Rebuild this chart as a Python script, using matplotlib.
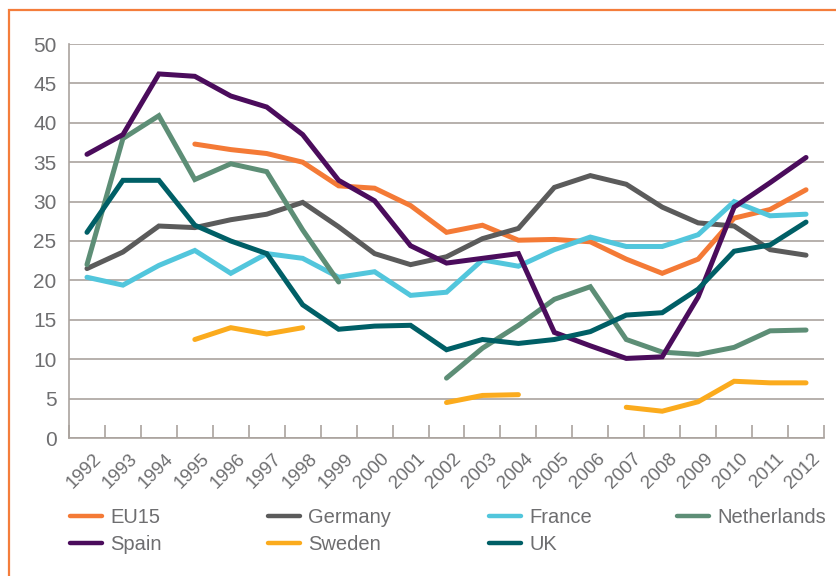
import numpy as np
import matplotlib
matplotlib.use("Agg")
import matplotlib.pyplot as plt
from matplotlib.patches import Rectangle
from matplotlib.lines import Line2D
import matplotlib.transforms as mtransforms

nan = np.nan
years = [str(y) for y in range(1992, 2013)]

eu15 = [nan, nan, nan, 37.3, 36.6, 36.1, 35.0, 32.0, 31.7, 29.5, 26.1, 27.0,
        25.1, 25.2, 24.9, 22.7, 20.9, 22.7, 27.9, 29.0, 31.5]
germany = [21.5, 23.6, 26.9, 26.7, 27.7, 28.4, 29.9, 26.8, 23.4, 22.0, 23.0,
           25.3, 26.6, 31.8, 33.3, 32.2, 29.3, 27.3, 26.9, 23.9, 23.2]
france = [20.4, 19.4, 21.9, 23.8, 20.9, 23.4, 22.8, 20.4, 21.1, 18.1, 18.5,
          22.6, 21.8, 23.9, 25.5, 24.3, 24.3, 25.8, 30.0, 28.2, 28.4]
netherlands = [22.0, 38.0, 40.9, 32.8, 34.8, 33.8, 26.4, 19.8, nan, nan, 7.6,
               11.4, 14.3, 17.6, 19.2, 12.5, 10.9, 10.6, 11.5, 13.6, 13.7]
spain = [36.0, 38.5, 46.2, 45.9, 43.4, 42.0, 38.5, 32.7, 30.1, 24.4, 22.2,
         22.8, 23.4, 13.4, 11.7, 10.1, 10.3, 17.9, 29.3, 32.4, 35.6]
sweden = [nan, nan, nan, 12.5, 14.0, 13.2, 14.0, nan, nan, nan, 4.5, 5.4,
          5.5, nan, nan, 3.9, 3.4, 4.6, 7.2, 7.0, 7.0]
uk = [26.1, 32.7, 32.7, 27.0, 25.0, 23.4, 16.9, 13.8, 14.2, 14.3, 11.2, 12.5,
      12.0, 12.5, 13.5, 15.6, 15.9, 18.9, 23.7, 24.5, 27.4]

series_names = ["EU15", "Germany", "France", "Netherlands", "Spain", "Sweden", "UK"]
series_vals = [eu15, germany, france, netherlands, spain, sweden, uk]
colors = ["#f47a36", "#5b5b5b", "#52c6dc", "#5d8e76", "#4b0c5c", "#fbab1d", "#005f66"]

grid_col = "#aaa39e"
text_col = "#6e6e70"
plt.rcParams['font.family'] = ['Liberation Sans', 'DejaVu Sans']

fig = plt.figure(figsize=(8.36, 5.76), dpi=100)
ax = fig.add_axes([69/836, 1 - 438/576, (824 - 69)/836, (438 - 44)/576])

x = np.arange(len(years))
lines = []
for name, vals, c in zip(series_names, series_vals, colors):
    ln, = ax.plot(x, vals, color=c, lw=3.6, solid_capstyle='round',
                  solid_joinstyle='miter', label=name, zorder=3)
    lines.append(ln)

ax.set_xlim(-0.5, len(years) - 0.5)
ax.set_ylim(0, 50)
ax.set_yticks(np.arange(0, 51, 5))
ax.yaxis.grid(True, color=grid_col, lw=1.2, zorder=0)
ax.set_axisbelow(True)
for s in ["top", "right"]:
    ax.spines[s].set_visible(False)
for s in ["left", "bottom"]:
    ax.spines[s].set_color(grid_col)
    ax.spines[s].set_linewidth(1.2)

ax.tick_params(axis='y', length=0, pad=9, labelsize=15, labelcolor=text_col)
ax.set_xticks(x)
ax.set_xticklabels(years, rotation=45, ha='center', va='top')
ax.tick_params(axis='x', which='major', length=0, pad=9, labelsize=13.5,
               labelcolor=text_col)
ax.set_xticks(np.arange(-0.5, len(years), 1.0), minor=True)
ax.tick_params(axis='x', which='minor', direction='in', length=9.5,
               width=1.2, color=grid_col)
offset = mtransforms.ScaledTranslation(-3/100, 0, fig.dpi_scale_trans)
for lab in ax.get_xticklabels():
    lab.set_transform(lab.get_transform() + offset)

# legends: one per column
col_x = [70, 268, 489, 677]
columns = [[0, 4], [1, 5], [2, 6], [3]]
for cx, idxs in zip(col_x, columns):
    handles = [Line2D([], [], color=colors[i], lw=3.2, solid_capstyle='round')
                for i in idxs]
    labels = [series_names[i] for i in idxs]
    fig.legend(handles, labels, loc='upper left',
               bbox_to_anchor=(cx/836, 1 - 508/576), frameon=False,
               fontsize=14.5, labelcolor=text_col, handlelength=1.6,
               handletextpad=0.4, borderpad=0, borderaxespad=0,
               labelspacing=0.42)

# orange frame
fig.patches.append(Rectangle((9/836, -0.1), 1.2, (576 - 10)/576 + 0.1,
                             transform=fig.transFigure, fill=False,
                             edgecolor="#f47d3b", lw=1.6))

fig.savefig("out.png", dpi=100)
